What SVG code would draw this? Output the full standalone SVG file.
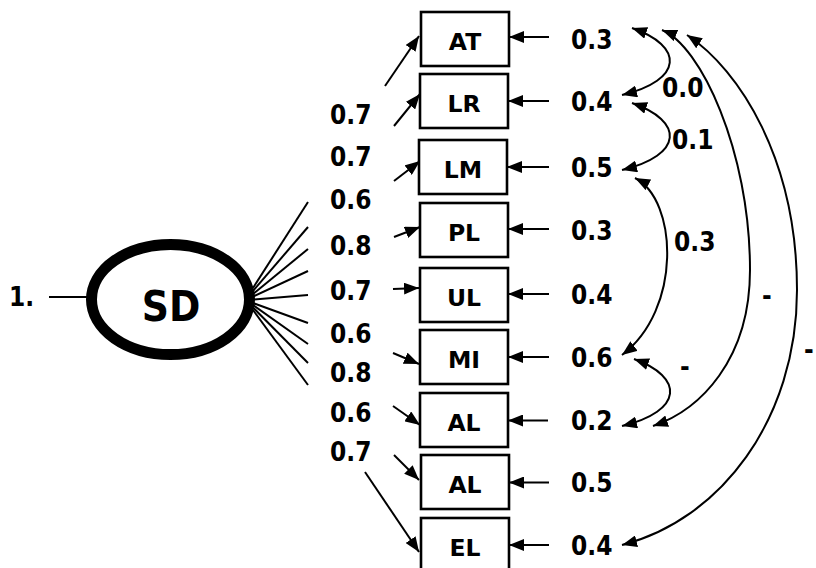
<svg xmlns="http://www.w3.org/2000/svg" width="816" height="568" viewBox="0 0 816 568">
<style>
  .bg{fill:#fff}
  .box{fill:#fff;stroke:#000;stroke-width:2.6}
  .lat{fill:#fff;stroke:#000;stroke-width:11}
  .bl{font-family:"DejaVu Sans",Verdana,sans-serif;font-weight:bold;font-size:23.5px;text-anchor:middle;fill:#000}
  .num{font-family:"DejaVu Sans Condensed","DejaVu Sans",sans-serif;font-weight:bold;font-size:26px;fill:#000}
  .big{font-family:"DejaVu Sans Condensed","DejaVu Sans",sans-serif;font-weight:bold;font-size:42px;text-anchor:middle;fill:#000}
  .ln{stroke:#000;stroke-width:2;fill:none}
  .ar{stroke:#000;stroke-width:2;fill:none;marker-end:url(#ah)}
  .dar{stroke:#000;stroke-width:2;fill:none;marker-start:url(#ah);marker-end:url(#ah)}
</style>
<defs>
  <marker id="ah" markerUnits="userSpaceOnUse" viewBox="0 0 15 12" refX="15" refY="6" markerWidth="15" markerHeight="12" orient="auto-start-reverse">
    <path d="M0,0 L15,6 L0,12 z" fill="#000"/>
  </marker>
</defs>
<rect class="bg" x="0" y="0" width="816" height="568"/>

<g id="connectors">
  <line class="ln" x1="49" y1="297" x2="88" y2="297"/>
  <line class="ln" x1="253" y1="288" x2="308" y2="202"/>
  <line class="ln" x1="253" y1="291" x2="308" y2="227"/>
  <line class="ln" x1="253" y1="294" x2="308" y2="249"/>
  <line class="ln" x1="253" y1="296.5" x2="308" y2="271"/>
  <line class="ln" x1="253" y1="299.5" x2="308" y2="295"/>
  <line class="ln" x1="253" y1="303" x2="308" y2="323"/>
  <line class="ln" x1="253" y1="305" x2="308" y2="344"/>
  <line class="ln" x1="253" y1="307.5" x2="308" y2="363"/>
  <line class="ln" x1="253" y1="310" x2="308" y2="385"/>
  <line class="ar" x1="385" y1="86" x2="419" y2="36"/>
  <line class="ar" x1="394" y1="126" x2="420" y2="94"/>
  <line class="ar" x1="394" y1="181" x2="420" y2="161"/>
  <line class="ar" x1="394" y1="237" x2="420" y2="227"/>
  <line class="ar" x1="393" y1="289" x2="419" y2="288"/>
  <line class="ar" x1="393" y1="353" x2="419" y2="364"/>
  <line class="ar" x1="393" y1="406" x2="420" y2="425"/>
  <line class="ar" x1="394" y1="455" x2="419" y2="480"/>
  <line class="ar" x1="365" y1="472" x2="419" y2="552"/>
  <line class="ar" x1="549" y1="37" x2="509" y2="37"/>
  <line class="ar" x1="549" y1="101" x2="508" y2="101"/>
  <line class="ar" x1="549" y1="167" x2="507" y2="167"/>
  <line class="ar" x1="549" y1="229" x2="508" y2="229"/>
  <line class="ar" x1="549" y1="294" x2="508" y2="294"/>
  <line class="ar" x1="549" y1="357" x2="508" y2="357"/>
  <line class="ar" x1="548" y1="420.5" x2="508" y2="420.5"/>
  <line class="ar" x1="549" y1="482.5" x2="509" y2="482.5"/>
  <line class="ar" x1="549" y1="545" x2="509" y2="545"/>
  <path class="dar" d="M632,28 C684,46 684,80 622,95"/>
  <path class="dar" d="M632,103 C684,121 684,155 622,170"/>
  <path class="dar" d="M635,178 C678,200 682,310 622,355"/>
  <path class="dar" d="M634,359 C684,377 684,411 622,426"/>
  <path class="dar" d="M662,30 C700,45 750,150 750,270 C750,360 700,410 653,426"/>
  <path class="dar" d="M687,35 C740,70 797,160 797,290 C797,420 720,520 622,545"/>
</g>

<g id="SD">
  <ellipse class="lat" cx="170.5" cy="299.5" rx="79" ry="55"/>
  <text class="big" x="171" y="321">SD</text>
</g>
<g id="input"><text class="num" x="9" y="306">1.</text></g>

<g id="AT"><rect class="box" x="421" y="12" width="88" height="54"/><text class="bl" x="465" y="50">AT</text></g>
<g id="LR"><rect class="box" x="420" y="74" width="88" height="54"/><text class="bl" x="464" y="112">LR</text></g>
<g id="LM"><rect class="box" x="419" y="140" width="88" height="54"/><text class="bl" x="463" y="178">LM</text></g>
<g id="PL"><rect class="box" x="420" y="203" width="88" height="54"/><text class="bl" x="464" y="241">PL</text></g>
<g id="UL"><rect class="box" x="420" y="268" width="88" height="54"/><text class="bl" x="464" y="306">UL</text></g>
<g id="MI"><rect class="box" x="420" y="330" width="88" height="54"/><text class="bl" x="464" y="368">MI</text></g>
<g id="AL1"><rect class="box" x="420" y="393" width="88" height="54"/><text class="bl" x="464" y="431">AL</text></g>
<g id="AL2"><rect class="box" x="421" y="455" width="88" height="54"/><text class="bl" x="465" y="493">AL</text></g>
<g id="EL"><rect class="box" x="421" y="518" width="88" height="54"/><text class="bl" x="465" y="556">EL</text></g>

<g id="loadings">
  <text class="num" x="330" y="124">0.7</text>
  <text class="num" x="330" y="166">0.7</text>
  <text class="num" x="330" y="209">0.6</text>
  <text class="num" x="330" y="255">0.8</text>
  <text class="num" x="330" y="300">0.7</text>
  <text class="num" x="330" y="343">0.6</text>
  <text class="num" x="330" y="382">0.8</text>
  <text class="num" x="330" y="422">0.6</text>
  <text class="num" x="330" y="461">0.7</text>
</g>

<g id="errors">
  <text class="num" x="571" y="49">0.3</text>
  <text class="num" x="571" y="111">0.4</text>
  <text class="num" x="571" y="177">0.5</text>
  <text class="num" x="571" y="240">0.3</text>
  <text class="num" x="571" y="304">0.4</text>
  <text class="num" x="571" y="367">0.6</text>
  <text class="num" x="571" y="430">0.2</text>
  <text class="num" x="571" y="492">0.5</text>
  <text class="num" x="571" y="555">0.4</text>
</g>

<g id="covariance-labels">
  <text class="num" x="680" y="376">-</text>
  <text class="num" x="662" y="97">0.0</text>
  <text class="num" x="672" y="149">0.1</text>
  <text class="num" x="674" y="251">0.3</text>
  <text class="num" x="762" y="305">-</text>
  <text class="num" x="804" y="359">-</text>
</g>
</svg>
